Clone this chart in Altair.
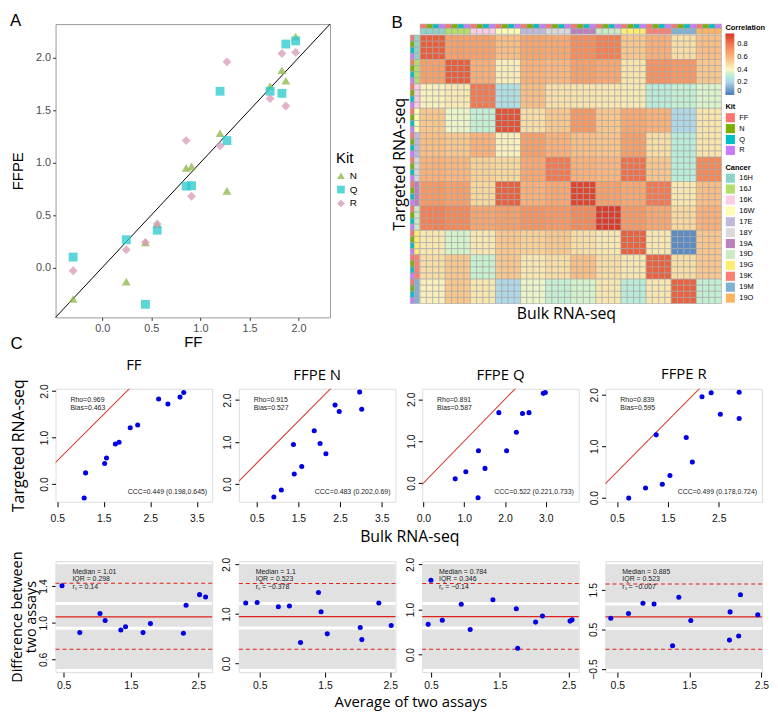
import altair as alt
import pandas as pd

FONT = "Liberation Sans"
TFONT = "Open Sans"

# ================= Panel A data =================
a_kits = ["N", "Q", "R"]
a_ff = [-0.296, 0.245, 0.44, 0.56, 0.855, 0.91, 1.20, 1.27, 1.71, 1.83, 1.87, 1.97]
a_n = [-0.30, -0.134, 0.24, 0.41, 0.95, 0.965, 1.28, 0.73, 1.73, 1.88, 1.78, 2.20]
a_q = [0.10, 0.265, -0.35, 0.356, 0.776, 0.78, 1.68, 1.21, 1.68, 1.66, 2.13, 2.16]
a_r = [-0.03, 0.17, 0.24, 0.415, 1.21, 0.68, 1.16, 1.96, 1.61, 2.04, 1.54, 2.05]
a_colors = ["#8fba4a", "#2fcbd0", "#d89cb8"]
a_shapes = ["triangle-up", "square", "diamond"]
a_range = [-0.475, 2.32]
a_ticks = [0.0, 0.5, 1.0, 1.5, 2.0]

# ================= Panel B data =================
kits4 = ["FF", "N", "Q", "R"]
kit4_colors = ["#F8766D", "#7CAE00", "#00BFC4", "#C77CFF"]
cancers = ["16H", "16J", "16K", "16W", "17E", "18Y", "19A", "19D", "19G", "19K", "19M", "19O"]
cancer_colors = ["#8DD3C7", "#B3DE69", "#FCCDE5", "#FFFFB3", "#BEBADA", "#D9D9D9",
                 "#BC80BD", "#CCEBC5", "#FFED6F", "#FB8072", "#80B1D3", "#FDB462"]
row_cancers = cancers[:11]
corr_block = [
    [0.87, 0.68, 0.68, 0.58, 0.66, 0.65, 0.74, 0.78, 0.55, 0.63, 0.48, 0.58],
    [0.68, 0.87, 0.63, 0.43, 0.62, 0.60, 0.68, 0.65, 0.46, 0.72, 0.70, 0.55],
    [0.42, 0.44, 0.80, 0.25, 0.58, 0.47, 0.46, 0.45, 0.44, 0.30, 0.32, 0.36],
    [0.55, 0.38, 0.32, 0.90, 0.48, 0.55, 0.70, 0.55, 0.65, 0.62, 0.22, 0.46],
    [0.58, 0.55, 0.62, 0.42, 0.68, 0.62, 0.58, 0.56, 0.68, 0.48, 0.30, 0.46],
    [0.62, 0.60, 0.52, 0.50, 0.65, 0.80, 0.62, 0.60, 0.82, 0.55, 0.30, 0.75],
    [0.70, 0.68, 0.50, 0.86, 0.62, 0.65, 0.93, 0.68, 0.65, 0.80, 0.45, 0.58],
    [0.78, 0.75, 0.66, 0.68, 0.72, 0.70, 0.75, 0.95, 0.70, 0.65, 0.50, 0.62],
    [0.45, 0.35, 0.45, 0.55, 0.52, 0.55, 0.48, 0.45, 0.86, 0.45, 0.04, 0.55],
    [0.48, 0.55, 0.33, 0.55, 0.45, 0.48, 0.58, 0.48, 0.45, 0.86, 0.48, 0.55],
    [0.42, 0.55, 0.45, 0.22, 0.38, 0.32, 0.35, 0.45, 0.30, 0.45, 0.86, 0.32],
]
corr_stops = [0.0, 0.2, 0.4, 0.6, 0.8, 0.97]
corr_colors = ["#4a7ab7", "#b2d2e6", "#fbf6c6", "#fbb67d", "#f2784f", "#d73027"]
corr_ticks = [0, 0.2, 0.4, 0.6, 0.8]

# ================= Panel C data =================
sc_titles = ["FF", "FFPE N", "FFPE Q", "FFPE R"]
sc_bulk = [
    [1.08, 1.11, 1.52, 1.56, 1.75, 1.83, 2.07, 2.23, 2.68, 2.88, 3.14, 3.22],
    [0.91, 1.09, 1.40, 1.38, 1.58, 1.88, 2.02, 2.16, 2.38, 2.48, 2.97, 3.02],
    [0.78, 1.04, 1.35, 1.51, 1.34, 1.85, 2.04, 2.28, 2.43, 2.59, 2.94, 2.99],
    [0.73, 1.06, 1.27, 1.39, 1.54, 1.86, 1.98, 2.17, 2.35, 2.53, 2.90, 2.90],
]
sc_target = [
    [-0.30, 0.24, 0.44, 0.56, 0.86, 0.90, 1.21, 1.27, 1.83, 1.72, 1.87, 1.97],
    [-0.31, -0.14, 0.24, 0.94, 0.42, 1.27, 0.965, 0.72, 1.88, 1.73, 2.19, 1.78],
    [0.10, 0.27, 0.77, 0.35, -0.35, 1.68, 0.77, 1.21, 1.66, 1.68, 2.14, 2.16],
    [-0.01, 0.185, 1.22, 0.26, 0.43, 1.17, 0.69, 1.96, 2.04, 1.62, 1.54, 2.05],
]
sc_xdom = [[0.465, 3.83], [0.07, 3.83], [-0.03, 3.81], [0.274, 3.35]]
sc_ydom = [[-0.38, 2.05], [-0.42, 2.27], [-0.445, 2.25], [-0.08, 2.117]]
sc_xticks = [[0.5, 1.0, 1.5, 2.0, 2.5, 3.0, 3.5],
             [0.5, 1.0, 1.5, 2.0, 2.5, 3.0, 3.5],
             [0.0, 0.5, 1.0, 1.5, 2.0, 2.5, 3.0, 3.5],
             [0.5, 1.0, 1.5, 2.0, 2.5, 3.0]]
sc_yticks = [0.0, 0.5, 1.0, 1.5, 2.0]
sc_rho = ["0.969", "0.915", "0.891", "0.839"]
sc_bias = ["0.463", "0.527", "0.587", "0.595"]
sc_ccc = ["0.449 (0.198,0.645)", "0.483 (0.202,0.69)", "0.522 (0.221,0.733)", "0.499 (0.178,0.724)"]

ba_avg = [
    [0.476, 0.74, 1.04, 1.117, 1.35, 1.42, 1.68, 1.79, 2.28, 2.32, 2.52, 2.61],
    [0.285, 0.46, 0.785, 0.955, 1.125, 1.40, 1.44, 1.535, 2.04, 2.065, 2.325, 2.515],
    [0.50, 0.46, 0.665, 0.94, 1.07, 1.40, 1.74, 1.76, 2.02, 2.12, 2.52, 2.55],
    [0.409, 0.655, 0.856, 1.01, 1.267, 1.354, 1.52, 2.066, 2.057, 2.185, 2.21, 2.45],
]
ba_diff = [
    [1.403, 0.892, 1.10, 1.024, 0.92, 0.955, 0.892, 0.99, 0.885, 1.19, 1.306, 1.28],
    [1.22, 1.23, 1.145, 1.158, 0.424, 1.434, 1.042, 0.598, 0.727, 0.482, 1.222, 0.765],
    [1.647, 0.67, 0.763, 1.117, 0.558, 1.215, 1.018, 0.141, 0.72, 0.855, 0.742, 0.77],
    [0.78, 0.90, 1.156, 1.14, 0.084, 1.308, 0.724, 0.94, 0.228, 0.332, 1.372, 0.868],
]
ba_mean = [1.063, 0.945, 0.841, 0.812]
ba_upper = [1.43, 1.614, 1.576, 1.644]
ba_lower = [0.71, 0.289, 0.12, -0.004]
ba_q3 = [1.21, 1.209, 1.131, 1.14]
ba_q1 = [0.94, 0.714, 0.587, 0.524]
ba_band = [[0.496, 1.636], [-0.109, 2.0], [-0.318, 2.0], [-0.5, 2.14]]
ba_xdom = [[0.38, 2.707], [0.18, 2.58], [0.373, 2.647], [0.336, 2.51]]
ba_ydom = [[0.461, 1.671], [-0.174, 2.064], [-0.389, 2.071], [-0.58, 2.22]]
ba_yticks = [[0.6, 1.0, 1.4], [0.0, 0.5, 1.0, 1.5, 2.0], [0.0, 0.5, 1.0, 1.5, 2.0], [-0.5, 0.5, 1.5]]
ba_xticks = [0.5, 1.0, 1.5, 2.0, 2.5]
ba_median = ["1.01", "1.1", "0.784", "0.885"]
ba_iqr = ["0.298", "0.523", "0.346", "0.523"]
ba_rs = ["0.14", "\u22120.378", "\u22120.14", "\u22120.007"]

ONE = pd.DataFrame({"k": [0]})

# ---------------- layout sizes ----------------
WA, HA = 277, 296
WB, HB = 314, 282
WC, HC, HBA = 158, 114, 112
PITCH = 185

# ================= Panel A chart =================
dfA = pd.DataFrame([{"FF": x, "FFPE": y, "Kit": k}
                    for k, ys in zip(a_kits, [a_n, a_q, a_r]) for x, y in zip(a_ff, ys)])
dfDiag = pd.DataFrame({"FF": a_range, "FFPE": a_range})
axA = dict(grid=False, domain=False, tickColor="#333333", tickSize=3, labelColor="#4d4d4d",
           labelFontSize=11, labelFont=FONT, titleFont=FONT, titleFontSize=15,
           titleFontWeight="normal", titleColor="black", format=".1f", values=a_ticks,
           labelFlush=False, labelPadding=2)
xA = alt.X("FF:Q", scale=alt.Scale(domain=a_range, nice=False, zero=False),
           axis=alt.Axis(title="FF", titlePadding=1, **axA))
yA = alt.Y("FFPE:Q", scale=alt.Scale(domain=a_range, nice=False, zero=False),
           axis=alt.Axis(title="FFPE", titlePadding=10, **axA))
legA = alt.Legend(title="Kit", orient="none", legendX=WA + 6, legendY=128,
                  titleFontSize=15, titleFont=FONT, titleFontWeight="normal",
                  labelFontSize=10, labelFont=FONT, symbolSize=60, rowPadding=0,
                  symbolOpacity=0.8)
diagA = alt.Chart(dfDiag).mark_line(color="black", strokeWidth=1).encode(x=xA, y=yA)
ptsA = alt.Chart(dfA).mark_point(filled=True, size=80, opacity=0.78).encode(
    x="FF:Q", y="FFPE:Q",
    color=alt.Color("Kit:N", scale=alt.Scale(domain=a_kits, range=a_colors), legend=legA),
    shape=alt.Shape("Kit:N", scale=alt.Scale(domain=a_kits, range=a_shapes), legend=legA),
)
# helper axis that only carries the panel letter "C" (placed below-left of panel A)
letterC = alt.Chart(ONE).mark_point(opacity=0).encode(
    y=alt.Y("k:Q", axis=alt.Axis(orient="right", title="C", titleX=-(WA + 46), titleY=HA + 31,
                                 titleAngle=0, titleAlign="left", titleBaseline="alphabetic",
                                 labels=False, ticks=False, domain=False, grid=False,
                                 titleFont=FONT, titleFontSize=17, titleFontWeight="normal",
                                 titleColor="black")))
scatterA = alt.layer(diagA, ptsA)
panelA = alt.layer(scatterA, letterC).resolve_scale(y="independent").properties(
    width=WA, height=HA,
    view=alt.ViewBackground(stroke="#9a9a9a", strokeWidth=1),
    title=alt.TitleParams("A", anchor="start", fontSize=17, font=FONT, fontWeight="normal",
                          offset=0, dy=8),
)

# ================= Panel B chart =================
XB = [-1.57, 48]
YB = [-1.8, 44]
cells = []
for ri in range(len(row_cancers)):
    for rk in range(4):
        r = ri * 4 + rk
        for ci in range(len(cancers)):
            for ck in range(4):
                c = ci * 4 + ck
                cells.append({"x": c, "x2": c + 1, "y": r, "y2": r + 1, "corr": corr_block[ri][ci]})
dfCells = pd.DataFrame(cells)
kit_ann, can_ann = [], []
for c in range(len(cancers) * 4):
    kit_ann.append({"x": c, "x2": c + 1, "y": -1.8, "y2": -1.1, "KitB": kits4[c % 4]})
    can_ann.append({"x": c, "x2": c + 1, "y": -1.1, "y2": -0.15, "Cancer": cancers[c // 4]})
for r in range(len(row_cancers) * 4):
    kit_ann.append({"x": -1.57, "x2": -0.95, "y": r, "y2": r + 1, "KitB": kits4[r % 4]})
    can_ann.append({"x": -0.95, "x2": -0.12, "y": r, "y2": r + 1, "Cancer": row_cancers[r // 4]})
dfKit = pd.DataFrame(kit_ann)
dfCan = pd.DataFrame(can_ann)

xB = alt.X("x:Q", scale=alt.Scale(domain=XB, nice=False, zero=False),
           axis=alt.Axis(title="Bulk RNA-seq", labels=False, ticks=False, domain=False, grid=False,
                         titleFont=TFONT, titleFontSize=16, titleFontWeight="normal",
                         titleColor="black", titlePadding=2))
yB = alt.Y("y:Q", scale=alt.Scale(domain=YB, nice=False, zero=False, reverse=True),
           axis=alt.Axis(title="Targeted RNA-seq", labels=False, ticks=False, domain=False, grid=False,
                         titleFont=TFONT, titleFontSize=16, titleFontWeight="normal",
                         titleColor="black", titlePadding=3))
legStyle = dict(titleFont=FONT, titleFontSize=7.5, titleFontWeight="bold", labelFont=FONT,
                labelFontSize=7.5, orient="right", offset=4, titlePadding=2)
heat = alt.Chart(dfCells).mark_rect(stroke="#a3a3a3", strokeWidth=0.6).encode(
    x=xB, x2="x2:Q", y=yB, y2="y2:Q",
    color=alt.Color("corr:Q", scale=alt.Scale(domain=corr_stops, range=corr_colors),
                    legend=alt.Legend(title="Correlation", values=corr_ticks, format=".1~f",
                                      gradientLength=62, gradientThickness=9, labelOffset=3,
                                      **legStyle)))
kitB = alt.Chart(dfKit).mark_rect(stroke="#a3a3a3", strokeWidth=0.6).encode(
    x="x:Q", x2="x2:Q", y="y:Q", y2="y2:Q",
    color=alt.Color("KitB:N", scale=alt.Scale(domain=kits4, range=kit4_colors),
                    legend=alt.Legend(title="Kit", symbolType="square", symbolSize=85,
                                      symbolStrokeWidth=0, rowPadding=1, **legStyle)))
canB = alt.Chart(dfCan).mark_rect(stroke="#a3a3a3", strokeWidth=0.6).encode(
    x="x:Q", x2="x2:Q", y="y:Q", y2="y2:Q",
    color=alt.Color("Cancer:N", scale=alt.Scale(domain=cancers, range=cancer_colors),
                    legend=alt.Legend(title="Cancer", symbolType="square", symbolSize=85,
                                      symbolStrokeWidth=0, rowPadding=1, **legStyle)))
panelB = alt.layer(heat, kitB, canB).resolve_scale(color="independent").properties(
    width=WB, height=HB,
    view=alt.ViewBackground(strokeWidth=0),
    title=alt.TitleParams("B", anchor="start", fontSize=17, font=FONT, fontWeight="normal",
                          offset=0, dy=8),
)

# ================= Panel C charts =================
c_xaxis = dict(grid=False, domain=False, tickSize=5, tickColor="black", labelFontSize=10.5,
               labelFont=FONT, labelColor="#111111", labelFlush=False,
               labelOverlap=False, format=".1f", titleColor="black", titleFontWeight="normal")
c_yaxis = dict(grid=False, domain=False, tickSize=4, tickColor="black", labelAngle=270,
               labelAlign="center", labelBaseline="bottom", labelFontSize=10.5, labelFont=FONT,
               labelColor="#111111", labelFlush=False, labelOverlap=False, format=".1f",
               titleFont=TFONT, titleFontWeight="normal", titleColor="black")
ptitle = dict(fontSize=15, font=TFONT, fontWeight="normal", offset=6)


def sc_panel(i):
    df = pd.DataFrame({"bulk": sc_bulk[i], "target": sc_target[i]})
    lo = min(sc_xdom[i][0], sc_ydom[i][0])
    hi = max(sc_xdom[i][1], sc_ydom[i][1])
    ident = pd.DataFrame({"bulk": [lo, hi], "target": [lo, hi]})
    if i == 1:
        # shared x title of the scatter row, centred between panels 2 and 3
        xt = dict(title="Bulk RNA-seq", titleX=172, titleY=40, titleAlign="center",
                  titleBaseline="alphabetic", titleFont=TFONT, titleFontSize=16)
    else:
        xt = dict(title=None)
    ytitle = "Targeted RNA-seq" if i == 0 else None
    x = alt.X("bulk:Q", scale=alt.Scale(domain=sc_xdom[i], nice=False, zero=False),
              axis=alt.Axis(values=sc_xticks[i], labelPadding=7, **xt, **c_xaxis))
    y = alt.Y("target:Q", scale=alt.Scale(domain=sc_ydom[i], nice=False, zero=False),
              axis=alt.Axis(values=sc_yticks, title=ytitle, labelPadding=2, titlePadding=13,
                            titleFontSize=16, **c_yaxis))
    line = alt.Chart(ident).mark_line(color="#d6453d", strokeWidth=1.1, clip=True).encode(x=x, y=y)
    pts = alt.Chart(df).mark_circle(color="#0000e6", size=26, opacity=1).encode(x="bulk:Q", y="target:Q")
    t1 = alt.Chart(ONE).mark_text(align="left", baseline="top", fontSize=7, font=FONT,
                                  lineBreak="\n", lineHeight=8.5, color="#222222").encode(
        text=alt.value(f"Rho={sc_rho[i]}\nBias={sc_bias[i]}"), x=alt.value(15), y=alt.value(7))
    t2 = alt.Chart(ONE).mark_text(align="right", baseline="middle", fontSize=7, font=FONT,
                                  color="#222222").encode(
        text=alt.value(f"CCC={sc_ccc[i]}"), x=alt.value(WC - 5), y=alt.value(HC - 10))
    return alt.layer(line, pts, t1, t2).properties(
        width=WC, height=HC, title=alt.TitleParams(sc_titles[i], **ptitle))


def ba_panel(i):
    df = pd.DataFrame({"avg": ba_avg[i], "diff": ba_diff[i]})
    if i == 2:
        xt = dict(title="Average of two assays", titleX=-12, titleY=35, titleAlign="center",
                  titleBaseline="alphabetic", titleFont=TFONT, titleFontSize=15)
    else:
        xt = dict(title=None)
    ytitle = ["Difference between", "two assays"] if i == 0 else None
    x = alt.X("avg:Q", scale=alt.Scale(domain=ba_xdom[i], nice=False, zero=False),
              axis=alt.Axis(values=ba_xticks, labelPadding=4, **xt, **c_xaxis))
    y = alt.Y("diff:Q", scale=alt.Scale(domain=ba_ydom[i], nice=False, zero=False),
              axis=alt.Axis(values=ba_yticks[i], title=ytitle, labelPadding=3, titlePadding=0,
                            titleFontSize=14.5, titleLineHeight=14.5, **c_yaxis))
    band_df = pd.DataFrame({"avg": [ba_xdom[i][0]], "avg2": [ba_xdom[i][1]],
                            "diff": [ba_band[i][0]], "diff2": [ba_band[i][1]]})
    band = alt.Chart(band_df).mark_rect(color="#e1e1e1").encode(x=x, x2="avg2:Q", y=y, y2="diff2:Q")
    q_df = pd.DataFrame({"diff": [ba_q1[i], ba_q3[i]]})
    qrule = alt.Chart(q_df).mark_rule(color="white", strokeWidth=3).encode(y="diff:Q")
    m_df = pd.DataFrame({"diff": [ba_mean[i]]})
    mrule = alt.Chart(m_df).mark_rule(color="#e0201b", strokeWidth=1.3).encode(y="diff:Q")
    l_df = pd.DataFrame({"diff": [ba_lower[i], ba_upper[i]]})
    lrule = alt.Chart(l_df).mark_rule(color="#e0201b", strokeWidth=1.1, strokeDash=[4, 3]).encode(y="diff:Q")
    pts = alt.Chart(df).mark_circle(color="#0000e6", size=26, opacity=1).encode(x="avg:Q", y="diff:Q")
    txt = alt.Chart(ONE).mark_text(align="left", baseline="top", fontSize=7, font=FONT,
                                   lineBreak="\n", lineHeight=7.5, color="#222222").encode(
        text=alt.value(f"Median = {ba_median[i]}\nIQR = {ba_iqr[i]}\nr\u209b = {ba_rs[i]}"),
        x=alt.value(17), y=alt.value(7))
    return alt.layer(band, qrule, mrule, lrule, pts, txt).properties(width=WC, height=HBA)


top_row = alt.hconcat(panelA, panelB, spacing=81, bounds="flush").resolve_scale(
    color="independent", shape="independent")
scat_row = alt.hconcat(*[sc_panel(i) for i in range(4)], spacing=PITCH - WC, bounds="flush")
ba_row = alt.hconcat(*[ba_panel(i) for i in range(4)], spacing=PITCH - WC, bounds="flush")

chart = alt.vconcat(top_row, scat_row, ba_row, spacing=5).resolve_scale(
    color="independent", shape="independent").properties(
    padding={"left": 0, "top": 0, "right": 0, "bottom": 0})
chart = chart.configure_view(stroke="black", strokeWidth=1).configure(background="white")

chart.save("out.html", embed_options={"renderer": "svg", "actions": False})
